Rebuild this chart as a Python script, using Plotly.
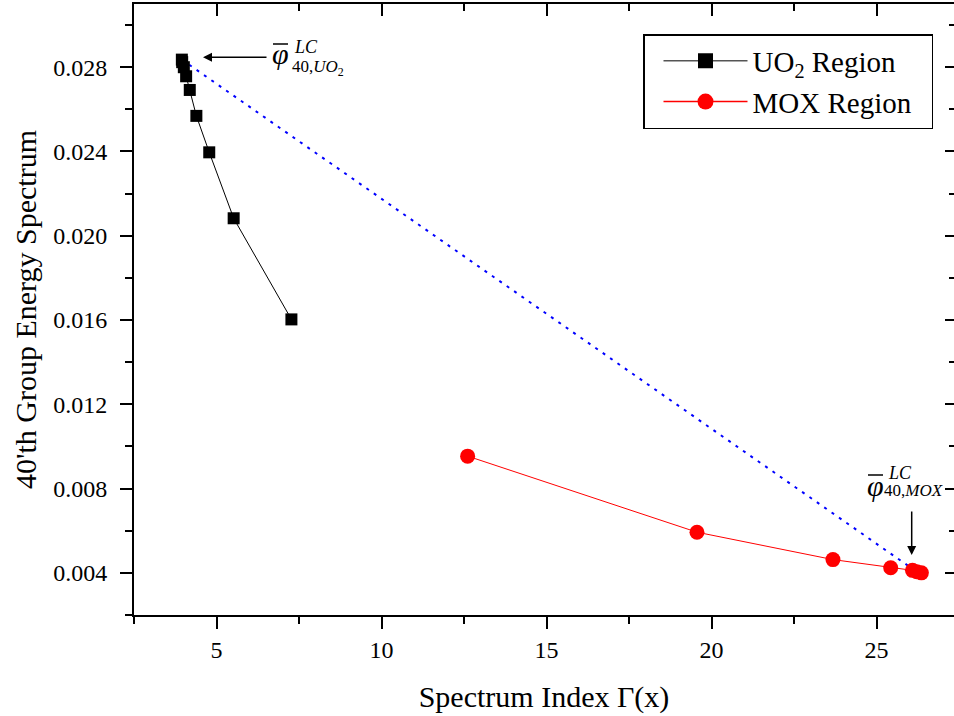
import plotly.graph_objects as go

# ---------------- data ----------------
uo2_x = [3.95, 3.96, 4.01, 4.08, 4.19, 4.39, 4.78, 5.52, 7.27]
uo2_y = [0.02836, 0.02824, 0.02800, 0.02757, 0.02692, 0.02569, 0.02396, 0.02083, 0.01603]

mox_x = [12.61, 19.56, 23.68, 25.43, 26.09, 26.22, 26.36]
mox_y = [0.00954, 0.00593, 0.00463, 0.00424, 0.00412, 0.00405, 0.00400]

lc_x = [3.95, 26.22]
lc_y = [0.02836, 0.00405]

x_ticks = [5, 10, 15, 20, 25]
y_ticks = [0.004, 0.008, 0.012, 0.016, 0.020, 0.024, 0.028]
y_tick_text = ["0.004", "0.008", "0.012", "0.016", "0.020", "0.024", "0.028"]

FONT = "Liberation Serif"

# ---------------- geometry helpers (pixels -> paper) ----------------
W, H = 954, 716
ML, MR, MT, MB = 134, 0, 4, 101
PW, PH = W - ML - MR, H - MT - MB


def px(xp):
    return (xp - ML) / PW


def py(yp):
    return (H - MB - yp) / PH


fig = go.Figure()

fig.add_trace(go.Scatter(
    x=lc_x, y=lc_y, mode="lines",
    line=dict(color="#0000ff", width=2, dash="3px,6px"),
    showlegend=False, hoverinfo="skip"))

fig.add_trace(go.Scatter(
    x=uo2_x, y=uo2_y, mode="lines+markers",
    line=dict(color="black", width=1),
    marker=dict(symbol="square", size=12, color="black"),
    showlegend=False))

fig.add_trace(go.Scatter(
    x=mox_x, y=mox_y, mode="lines+markers",
    line=dict(color="red", width=1),
    marker=dict(symbol="circle", size=15, color="red"),
    showlegend=False))

# legend entries
fig.add_trace(go.Scatter(
    x=[None], y=[None], mode="lines+markers", name="UO<sub>2</sub> Region",
    line=dict(color="#555555", width=1.5),
    marker=dict(symbol="square", size=15, color="black")))
fig.add_trace(go.Scatter(
    x=[None], y=[None], mode="lines+markers", name="MOX Region&nbsp;&nbsp;",
    line=dict(color="red", width=1.5),
    marker=dict(symbol="circle", size=17, color="red")))

x_range = [2.5, 2.5 + PW / 33.0]
y_range = [0.002, 0.031]

axis_common = dict(showgrid=False, zeroline=False, linecolor="black", linewidth=2,
                   tickcolor="black", tickwidth=2, automargin=False,
                   tickfont=dict(family=FONT, size=24, color="black"))

fig.update_layout(
    width=W, height=H,
    margin=dict(l=ML, r=MR, t=MT, b=MB, pad=0, autoexpand=False),
    paper_bgcolor="white", plot_bgcolor="white",
    font=dict(family=FONT, color="black"),
    xaxis=dict(range=x_range, tickvals=x_ticks, ticks="outside", ticklen=12,
               minor=dict(dtick=2.5, tick0=0, ticks="outside", ticklen=7, tickwidth=2, tickcolor="black"),
               title=dict(text="Spectrum Index Γ(x)", font=dict(family=FONT, size=30), standoff=24),
               showline=True, mirror=True, **axis_common),
    yaxis=dict(range=y_range, tickvals=y_ticks, ticktext=y_tick_text, ticks="outside", ticklen=12,
               minor=dict(dtick=0.002, tick0=0, ticks="outside", ticklen=7, tickwidth=2, tickcolor="black"),
               title=dict(text="40'th Group Energy Spectrum", font=dict(family=FONT, size=30), standoff=8),
               ticklabelstandoff=8,
               showline=True, **axis_common),
    xaxis2=dict(range=x_range, overlaying="x", side="top", anchor="y", showticklabels=False,
                tickvals=x_ticks, ticks="inside", ticklen=12,
                minor=dict(dtick=2.5, tick0=0, ticks="inside", ticklen=7, tickwidth=2, tickcolor="black"),
                showline=True, **axis_common),
    yaxis2=dict(range=y_range, overlaying="y", side="right", anchor="x", showticklabels=False,
                tickvals=y_ticks, ticks="inside", ticklen=9,
                minor=dict(dtick=0.002, tick0=0, ticks="inside", ticklen=5, tickwidth=2, tickcolor="black"),
                showline=False, **axis_common),
    legend=dict(x=px(643), y=py(34), xanchor="left", yanchor="top",
                bordercolor="black", borderwidth=1.5, bgcolor="white",
                font=dict(family=FONT, size=29, color="black"),
                itemwidth=84, tracegroupgap=0, indentation=14),
    showlegend=True,
)

# dummy trace so overlay axes render
fig.add_trace(go.Scatter(x=[None], y=[None], xaxis="x2", yaxis="y2", showlegend=False, hoverinfo="skip"))

# arrows
fig.add_annotation(x=px(203), y=py(57.3), xref="paper", yref="paper", text="",
                   showarrow=True, ax=65, ay=0, arrowhead=2, arrowsize=1.2, arrowwidth=1.5, arrowcolor="black")
fig.add_annotation(x=px(911.7), y=py(555), xref="paper", yref="paper", text="",
                   showarrow=True, ax=0, ay=-45, arrowhead=2, arrowsize=1.2, arrowwidth=1.5, arrowcolor="black")


# phi labels: phi glyph, overbar, superscript LC, subscript
def phi_label(xc, yc, bar_y, sup_x, sup_y, sub_x, sub_y, sub):
    fig.add_annotation(x=px(xc), y=py(yc), xref="paper", yref="paper",
                       text="<i>φ</i>", showarrow=False, xanchor="center", yanchor="middle",
                       font=dict(family=FONT, size=30, color="black"))
    fig.add_shape(type="line", xref="paper", yref="paper",
                  x0=px(xc - 7), x1=px(xc + 8), y0=py(bar_y), y1=py(bar_y),
                  line=dict(color="black", width=1.5))
    fig.add_annotation(x=px(sup_x), y=py(sup_y), xref="paper", yref="paper",
                       text="<i>LC</i>", showarrow=False, xanchor="left", yanchor="middle",
                       font=dict(family=FONT, size=18, color="black"))
    fig.add_annotation(x=px(sub_x), y=py(sub_y), xref="paper", yref="paper",
                       text=sub, showarrow=False, xanchor="left", yanchor="middle",
                       font=dict(family=FONT, size=17, color="black"))


phi_label(280, 54, 44, 292, 47, 290, 68, "40,<i>UO</i><sub>2</sub>")
phi_label(875, 485, 475, 886, 473, 882, 491, "40,<i>MOX</i>")

fig.write_html("out.html", config={"displayModeBar": False},
               post_script="document.body.style.margin='0px';document.body.style.overflow='hidden';")
